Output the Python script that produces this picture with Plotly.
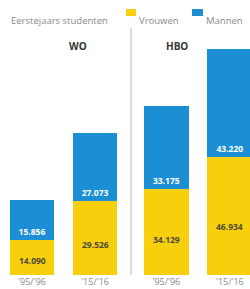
import plotly.graph_objects as go

years = ["'95/'96", "'15/'16"]
groups = ["WO", "HBO"]
vrouwen = {"WO": [14090, 29526], "HBO": [34129, 46934]}
mannen = {"WO": [15856, 27073], "HBO": [33175, 43220]}

YELLOW = "#F7CF0C"
BLUE = "#1C8FD4"
GREY = "#8a8a8a"
FONT = "Open Sans"

W, H = 250, 289
bottom_px = 275
top_val = 109700

fig = go.Figure()
fig.update_layout(
    width=W, height=H, margin=dict(l=0, r=0, t=0, b=H - bottom_px),
    paper_bgcolor="white", plot_bgcolor="white", barmode="stack",
    showlegend=False, separators=",.", font=dict(family=FONT, color=GREY),
    xaxis=dict(domain=[0, 131 / W], range=[-0.508, 1.57]),
    xaxis2=dict(domain=[131 / W, 1], range=[-0.556, 1.317], anchor="y2"),
    yaxis=dict(domain=[0, 1], range=[0, top_val], visible=False),
    yaxis2=dict(domain=[0, 1], range=[0, top_val], visible=False, anchor="x2"),
)
for ax in ["xaxis", "xaxis2"]:
    fig.layout[ax].update(type="category", showgrid=False, zeroline=False,
                          showline=False, ticks="", ticklabelstandoff=0,
                          tickfont=dict(size=9, color=GREY))

axes = {"WO": ("x", "y"), "HBO": ("x2", "y2")}
for g in groups:
    xa, ya = axes[g]
    fig.add_trace(go.Bar(x=years, y=vrouwen[g], name="Vrouwen", marker_color=YELLOW,
                         marker_line_width=0, width=0.71, xaxis=xa, yaxis=ya,
                         hoverinfo="skip"))
    fig.add_trace(go.Bar(x=years, y=mannen[g], name="Mannen", marker_color=BLUE,
                         marker_line_width=0, width=0.71, xaxis=xa, yaxis=ya,
                         texttemplate="<b>%{y:,}</b>", textposition="inside",
                         insidetextanchor="start",
                         textfont=dict(size=8.5, color="white", family=FONT),
                         hoverinfo="skip"))
    for yr, v in zip(years, vrouwen[g]):
        fig.add_annotation(x=yr, y=v * 0.41, xref=xa, yref=ya, showarrow=False,
                           text="<b>" + f"{v:,}".replace(",", ".") + "</b>",
                           font=dict(size=8.5, color="#4a4a3a", family=FONT))

# group titles
fig.add_annotation(x=67 / W, y=1 - 37 / bottom_px, xref="paper", yref="paper",
                   text="<b>WO</b>", showarrow=False,
                   font=dict(size=10, color="#333", family=FONT))
fig.add_annotation(x=190 / W, y=1 - 37 / bottom_px, xref="paper", yref="paper",
                   text="<b>HBO</b>", showarrow=False,
                   font=dict(size=10, color="#333", family=FONT))

# separator
fig.add_shape(type="line", xref="paper", yref="paper", x0=131 / W, x1=131 / W,
              y0=0, y1=1 - 28 / bottom_px, line=dict(color="#b8b8b8", width=1))

# legend (custom)
ly = 1 - 12 / bottom_px
fig.add_annotation(x=9 / W, y=ly, xref="paper", yref="paper", xanchor="left",
                   text="Eerstejaars studenten", showarrow=False,
                   font=dict(size=9.5, color=GREY, family=FONT))
fig.add_shape(type="rect", xref="paper", yref="paper", x0=126 / W, x1=136 / W,
              y0=1 - 16 / bottom_px, y1=1 - 9 / bottom_px, fillcolor=YELLOW, line_width=0)
fig.add_annotation(x=137 / W, y=ly, xref="paper", yref="paper", xanchor="left",
                   text="Vrouwen", showarrow=False,
                   font=dict(size=9.5, color=GREY, family=FONT))
fig.add_shape(type="rect", xref="paper", yref="paper", x0=192 / W, x1=203 / W,
              y0=1 - 16 / bottom_px, y1=1 - 9 / bottom_px, fillcolor=BLUE, line_width=0)
fig.add_annotation(x=204 / W, y=ly, xref="paper", yref="paper", xanchor="left",
                   text="Mannen", showarrow=False,
                   font=dict(size=9.5, color=GREY, family=FONT))

fig.write_html("out.html", config={"displayModeBar": False},
               post_script="document.body.style.margin='0';document.body.style.overflow='hidden';")
